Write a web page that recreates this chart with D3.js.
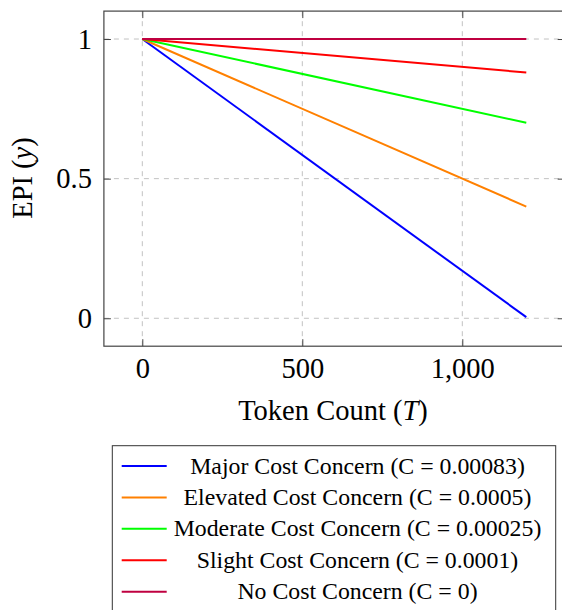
<!DOCTYPE html>
<html>
<head>
<meta charset="utf-8">
<script src="https://cdn.jsdelivr.net/npm/d3@7"></script>
<style>
  body { margin: 0; background: #fff; }
  svg { display: block; font-family: "Liberation Serif", "Times New Roman", serif; }
</style>
</head>
<body>
<script>
// token counts sampled at the ends of each (straight) line
const tokens = [0, 1200];

const seriesNames = [
    'Major Cost Concern (C = 0.00083)',
    'Elevated Cost Concern (C = 0.0005)',
    'Moderate Cost Concern (C = 0.00025)',
    'Slight Cost Concern (C = 0.0001)',
    'No Cost Concern (C = 0)'
];
const majorValues = [1, 0.004];
const elevatedValues = [1, 0.4];
const moderateValues = [1, 0.7];
const slightValues = [1, 0.88];
const noneValues = [1, 1];

const xTicks = [0, 500, 1000];
const yTicks = [0, 0.5, 1];

const colors = ['#0000ff', '#ff8000', '#00ff00', '#ff0000', '#bf0040'];

const width = 562;
const height = 610;

const series = [majorValues, elevatedValues, moderateValues, slightValues, noneValues].
    map((vals, i) => ({
        name: seriesNames[i],
        color: colors[i],
        points: vals.map((v, j) => [tokens[j], v])
    }));

const svg = d3.select('body').append('svg').
    attr('width', width).
    attr('height', height);

const box = { left: 103.9, right: 564.7, top: 11.1, bottom: 346.2 };

const x = d3.scaleLinear().domain([-120, 1320]).range([box.left, box.right]);
const y = d3.scaleLinear().domain([-0.1, 1.1]).range([box.bottom, box.top]);

// grid
const grid = svg.append('g').
    attr('stroke', '#c2c2c2').
    attr('stroke-width', 1).
    attr('stroke-dasharray', '5,5');

grid.selectAll('line.gx').data(xTicks).enter().append('line').
    attr('x1', d => x(d)).attr('x2', d => x(d)).
    attr('y1', box.bottom).attr('y2', box.top);

grid.selectAll('line.gy').data(yTicks).enter().append('line').
    attr('y1', d => y(d)).attr('y2', d => y(d)).
    attr('x1', box.left).attr('x2', box.right);

// axes (ticks pointing inward on all four sides)
const tickLen = 7;
const fmt = d3.format(',');

svg.append('g').
    attr('transform', `translate(0, ${box.bottom})`).
    call(d3.axisBottom(x).tickValues(xTicks).tickSize(-tickLen).tickPadding(12).tickFormat(fmt)).
    call(g => g.select('.domain').remove());

svg.append('g').
    attr('transform', `translate(0, ${box.top})`).
    call(d3.axisTop(x).tickValues(xTicks).tickSize(-tickLen).tickFormat('')).
    call(g => g.select('.domain').remove());

svg.append('g').
    attr('transform', `translate(${box.left}, 0)`).
    call(d3.axisLeft(y).tickValues(yTicks).tickSize(-tickLen).tickPadding(12).tickFormat(d3.format(''))).
    call(g => g.select('.domain').remove());

svg.append('g').
    attr('transform', `translate(${box.right}, 0)`).
    call(d3.axisRight(y).tickValues(yTicks).tickSize(-tickLen).tickFormat('')).
    call(g => g.select('.domain').remove());

svg.selectAll('.tick line').attr('stroke', '#444').attr('stroke-width', 1);
svg.selectAll('.tick text').
    attr('font-family', '"Liberation Serif", "Times New Roman", serif').
    attr('font-size', 28.5).
    attr('fill', '#000');

svg.append('rect').
    attr('x', box.left).attr('y', box.top).
    attr('width', box.right - box.left).attr('height', box.bottom - box.top).
    attr('fill', 'none').attr('stroke', '#444').attr('stroke-width', 1.2);

// lines
const line = d3.line().x(d => x(d[0])).y(d => y(d[1]));

svg.append('g').selectAll('path').data(series).enter().append('path').
    attr('d', d => line(d.points)).
    attr('fill', 'none').
    attr('stroke', d => d.color).
    attr('stroke-width', 2);

// axis titles
const xTitle = svg.append('text').
    attr('x', 333).attr('y', 420).
    attr('text-anchor', 'middle').
    attr('font-size', 28.5).
    attr('fill', '#000');
xTitle.append('tspan').text('Token Count (');
xTitle.append('tspan').attr('font-style', 'italic').text('T');
xTitle.append('tspan').text(')');

const yTitle = svg.append('text').
    attr('transform', 'translate(32, 178) rotate(-90)').
    attr('text-anchor', 'middle').
    attr('font-size', 28.5).
    attr('fill', '#000');
yTitle.append('tspan').text('EPI (');
yTitle.append('tspan').attr('font-style', 'italic').text('y');
yTitle.append('tspan').text(')');

// legend
const legend = svg.append('g');

legend.append('rect').
    attr('x', 112.3).attr('y', 445.7).
    attr('width', 443.4).attr('height', 180).
    attr('fill', '#fff').attr('stroke', '#333').attr('stroke-width', 1);

const rowY = d3.scaleLinear().domain([0, 4]).range([466, 591.7]);

const rows = legend.selectAll('g.row').data(series).enter().append('g').
    attr('transform', (d, i) => `translate(0, ${rowY(i)})`);

rows.append('line').
    attr('x1', 121.7).attr('x2', 166.7).
    attr('stroke', d => d.color).
    attr('stroke-width', 2);

rows.append('text').
    attr('x', 357.5).attr('y', 7.5).
    attr('text-anchor', 'middle').
    attr('font-size', 23.8).
    attr('fill', '#000').
    text(d => d.name);
</script>
</body>
</html>
